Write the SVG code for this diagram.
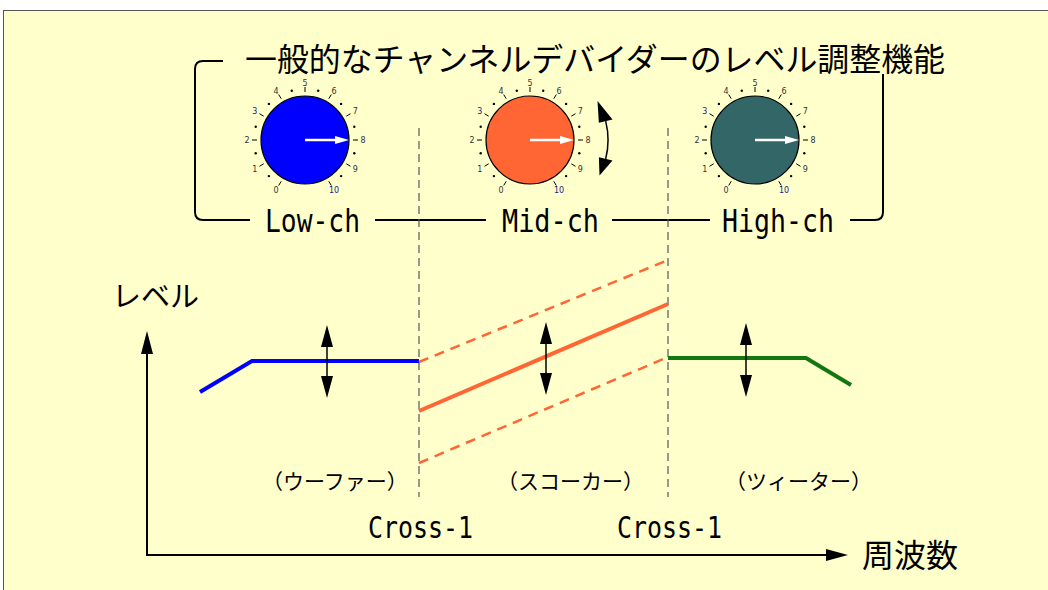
<svg xmlns="http://www.w3.org/2000/svg" xmlns:xlink="http://www.w3.org/1999/xlink" width="1048" height="590" viewBox="0 0 1048 590">
<style>
.jp{font-family:"Noto Sans CJK JP","Noto Sans CJK SC",sans-serif;fill:#000}
.mono{font-family:"DejaVu Sans Mono","Liberation Mono",monospace;fill:#000}
.num{font-family:"DejaVu Sans","Liberation Sans",sans-serif;font-size:8px;fill:#333;text-anchor:middle}
.nb{fill:#1a1a80}
.br{fill:none;stroke:#000;stroke-width:2}
.vdash{fill:none;stroke:#555;stroke-width:1.2;stroke-dasharray:8 5}
.knob{stroke:#000;stroke-width:1.2}
.ptr{stroke:#fff;stroke-width:2.5}
.axis{fill:none;stroke:#000;stroke-width:2}
.dbl{stroke:#000;stroke-width:1.5}
.or{fill:none;stroke:#FF6633;stroke-width:4}
.ord{fill:none;stroke:#FF6633;stroke-width:2.5;stroke-dasharray:10 7}
</style>
<defs>
<g id="scale">
<path d="M-23.8,41.3L-26.3,45.5M-41.3,23.8L-45.5,26.3M-48,0L-53,0M-41.3,-23.8L-45.5,-26.3M-23.8,-41.3L-26.3,-45.5M0,-48L0,-53M23.8,-41.3L26.3,-45.5M41.3,-23.8L45.5,-26.3M48,0L53,0M41.3,23.8L45.5,26.3M23.8,41.3L26.3,45.5" stroke="#000" stroke-width="1" fill="none"/>
<g fill="#000">
<circle cx="-36.1" cy="36.1" r="1.2"/><circle cx="-49.3" cy="13.2" r="1.2"/><circle cx="-49.3" cy="-13.2" r="1.2"/><circle cx="-36.1" cy="-36.1" r="1.2"/><circle cx="-13.2" cy="-49.3" r="1.2"/><circle cx="13.2" cy="-49.3" r="1.2"/><circle cx="36.1" cy="-36.1" r="1.2"/><circle cx="49.3" cy="-13.2" r="1.2"/><circle cx="49.3" cy="13.2" r="1.2"/><circle cx="36.1" cy="36.1" r="1.2"/>
</g>
</g>
</defs>
<rect x="3.5" y="10.5" width="1100" height="700" fill="#FFFFCC" stroke="#555" stroke-width="1"/>

<g id="title">
<text class="jp" x="245" y="71" font-size="32" textLength="700" lengthAdjust="spacingAndGlyphs">一般的なチャンネルデバイダーのレベル調整機能</text>
</g>

<g id="bracket">
<path class="br" d="M223,61H203Q195,61 195,69V212Q195,220 203,220H250"/>
<path class="br" d="M375,220H486M612,220H710M850,220H875Q883,220 883,212V74"/>
</g>

<g id="guides">
<path class="vdash" d="M419,128V497M668,128V497"/>
</g>

<g id="knob-low">
<use xlink:href="#scale" href="#scale" transform="translate(305,140)"/>
<circle class="knob" cx="305" cy="140" r="44" fill="#0000FF"/>
<path class="ptr" d="M305,140H337"/>
<polygon points="335,136 349,140 335,144" fill="#fff"/>
<g class="num">
<text x="276" y="193">0</text><text x="254.8" y="172">1</text><text x="247" y="143">2</text><text class="nb" x="254.8" y="114">3</text><text x="276" y="93.5">4</text><text x="305" y="86">5</text><text x="334" y="93.5">6</text><text x="355.2" y="114">7</text><text x="363" y="143">8</text><text x="355.2" y="172">9</text><text class="nb" x="334" y="193">10</text>
</g>
<text class="mono" x="265" y="232" font-size="32" textLength="95" lengthAdjust="spacingAndGlyphs">Low-ch</text>
</g>

<g id="knob-mid">
<use xlink:href="#scale" href="#scale" transform="translate(530,140)"/>
<circle class="knob" cx="530" cy="140" r="44" fill="#FF6633"/>
<path class="ptr" d="M530,140H562"/>
<polygon points="560,136 574,140 560,144" fill="#fff"/>
<g class="num">
<text x="501" y="193">0</text><text x="479.8" y="172">1</text><text x="472" y="143">2</text><text class="nb" x="479.8" y="114">3</text><text x="501" y="93.5">4</text><text x="530" y="86">5</text><text x="559" y="93.5">6</text><text x="580.2" y="114">7</text><text x="588" y="143">8</text><text x="580.2" y="172">9</text><text class="nb" x="559" y="193">10</text>
</g>
<path d="M605.7,121.1A78,78 0 0 1 605.7,158.9" fill="none" stroke="#000" stroke-width="1.5"/>
<polygon points="597.5,101 612.5,119.4 598.9,122.8" fill="#000"/>
<polygon points="599.5,175.4 612.5,160.6 598.9,157.2" fill="#000"/>
<text class="mono" x="502" y="232" font-size="32" textLength="97" lengthAdjust="spacingAndGlyphs">Mid-ch</text>
</g>

<g id="knob-high">
<use xlink:href="#scale" href="#scale" transform="translate(755,140)"/>
<circle class="knob" cx="755" cy="140" r="44" fill="#336666"/>
<path class="ptr" d="M755,140H787"/>
<polygon points="785,136 799,140 785,144" fill="#fff"/>
<g class="num">
<text x="726" y="193">0</text><text x="704.8" y="172">1</text><text x="697" y="143">2</text><text class="nb" x="704.8" y="114">3</text><text x="726" y="93.5">4</text><text x="755" y="86">5</text><text x="784" y="93.5">6</text><text x="805.2" y="114">7</text><text x="813" y="143">8</text><text x="805.2" y="172">9</text><text class="nb" x="784" y="193">10</text>
</g>
<text class="mono" x="722" y="232" font-size="32" textLength="112" lengthAdjust="spacingAndGlyphs">High-ch</text>
</g>

<g id="axes">
<path class="axis" d="M147,352V555H828"/>
<polygon points="147,331 141,354 153,354" fill="#000"/>
<polygon points="848,555 826,549 826,561" fill="#000"/>
<text class="jp" x="112" y="307" font-size="29">レベル</text>
<text class="jp" x="862" y="567" font-size="32">周波数</text>
</g>

<g id="woofer">
<polyline points="200,392 252,361 419,361" fill="none" stroke="#0000FF" stroke-width="4"/>
<path class="dbl" d="M327,340V383"/>
<polygon points="327,325 321,347 333,347" fill="#000"/>
<polygon points="327,398 321,376 333,376" fill="#000"/>
<text class="jp" x="262" y="489" font-size="21">（ウーファー）</text>
</g>

<g id="squawker">
<path class="or" d="M419,411L668,304"/>
<path class="ord" d="M419,362L668,260M419,463L668,357"/>
<path class="dbl" d="M546,337V380"/>
<polygon points="546,322 540,344 552,344" fill="#000"/>
<polygon points="546,395 540,373 552,373" fill="#000"/>
<text class="jp" x="497" y="489" font-size="21">（スコーカー）</text>
</g>

<g id="tweeter">
<polyline points="668,358 806,358 851,385" fill="none" stroke="#117711" stroke-width="4"/>
<path class="dbl" d="M746,338V382"/>
<polygon points="746,323 740,345 752,345" fill="#000"/>
<polygon points="746,397 740,375 752,375" fill="#000"/>
<text class="jp" x="725" y="489" font-size="21">（ツィーター）</text>
</g>

<g id="cross-labels">
<text class="mono" x="368" y="538" font-size="31" textLength="105" lengthAdjust="spacingAndGlyphs">Cross-1</text>
<text class="mono" x="617" y="538" font-size="31" textLength="105" lengthAdjust="spacingAndGlyphs">Cross-1</text>
</g>
</svg>
